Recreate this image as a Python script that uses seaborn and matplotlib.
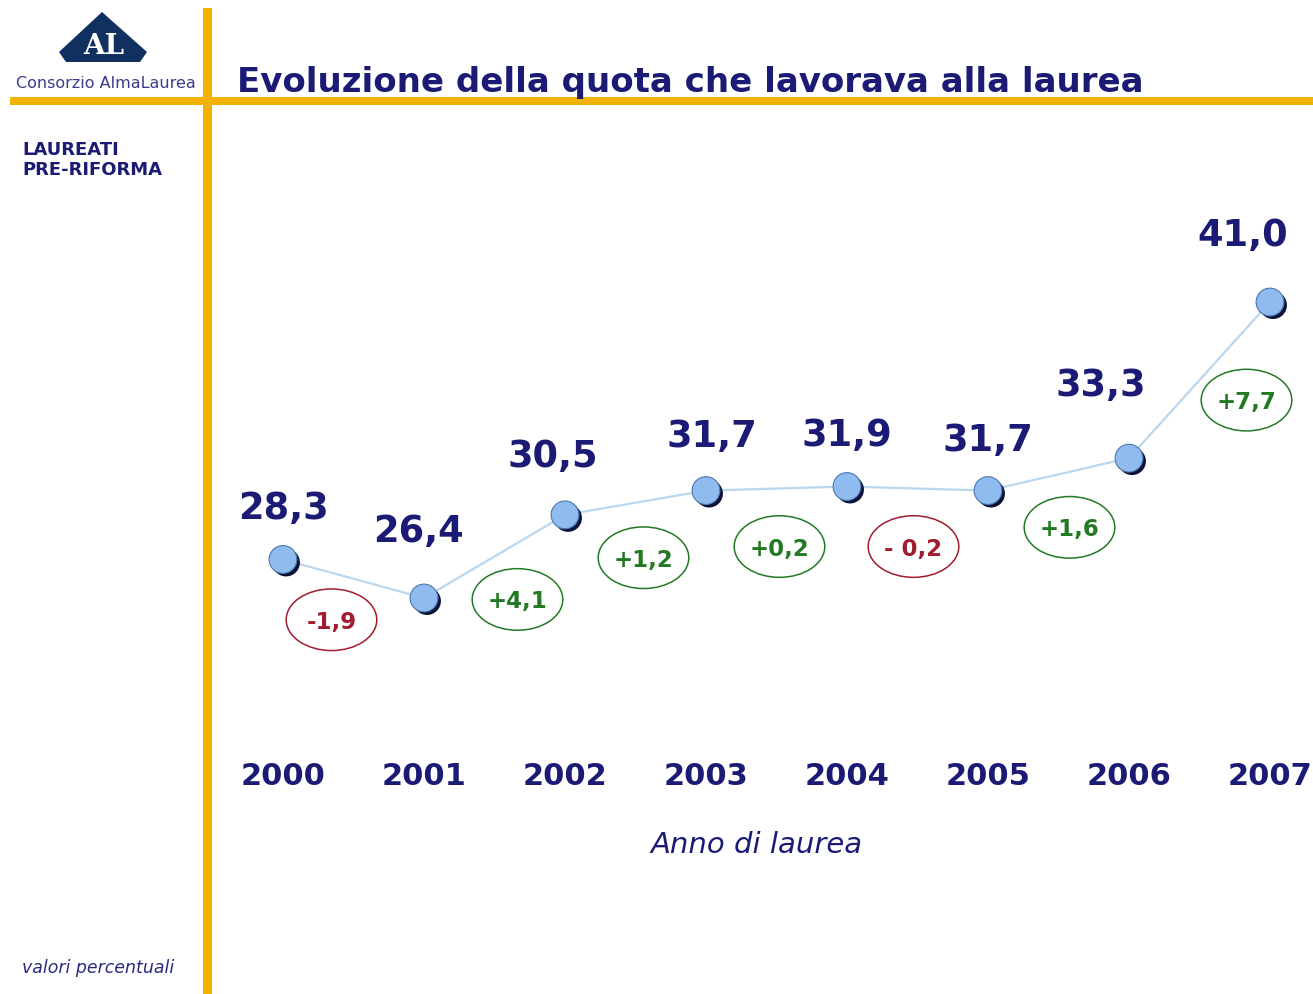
import matplotlib
matplotlib.use("Agg")
import matplotlib.pyplot as plt
import matplotlib.patheffects as pe
from matplotlib.patches import Rectangle, Polygon, Ellipse
from matplotlib.offsetbox import DrawingArea, AnnotationBbox
from matplotlib.text import Text
import seaborn as sns
import pandas as pd

sns.set_theme(style="white")
plt.rcParams['font.family'] = ['DejaVu Sans']

# dati
anni = [2000, 2001, 2002, 2003, 2004, 2005, 2006, 2007]
quota = [28.3, 26.4, 30.5, 31.7, 31.9, 31.7, 33.3, 41.0]
variazioni = ['-1,9', '+4,1', '+1,2', '+0,2', '- 0,2', '+1,6', '+7,7']

titolo = 'Evoluzione della quota che lavorava alla laurea'
sottotitolo = 'LAUREATI\nPRE-RIFORMA'
nota = 'valori percentuali'
asse_x = 'Anno di laurea'

# colori
BLU = '#1b1a75'
ORO = '#f2b200'
ROSSO = '#a01c2e'
VERDE = '#237a23'

# spostamenti etichette (pixel)
off_valori = [(0, 55), (-6, 71), (-12, 62), (6, 58), (0, 55), (0, 54), (-28, 77), (-27, 71)]
off_var = [(-22, -41), (23, -43), (8, -55), (3, -58), (-4, -58), (11, -53), (47, -20)]

df = pd.DataFrame({'anno': anni, 'quota': quota})

W, H = 1313, 994
fig = plt.figure(figsize=(W / 100, H / 100), dpi=100)
fig.patch.set_facecolor('white')

def fx(px):
    return px / W

def fy(py):
    return 1 - py / H

# area del grafico
ax = fig.add_axes([0, fy(755), 1, fy(200) - fy(755)])
ax.set_facecolor('none')
ax.set_xlim(1997.993, 2007.305)
ax.set_ylim(18.655, 46.035)

sns.lineplot(data=df, x='anno', y='quota', ax=ax, color='#b9d7ef', lw=1.6, zorder=2)
pts = sns.scatterplot(data=df, x='anno', y='quota', ax=ax, s=400, color='#8fbbee',
                      edgecolor='#4a78b0', linewidth=0.8, zorder=3)
pts.collections[-1].set_path_effects([
    pe.SimplePatchShadow(offset=(2.2, -2.2), shadow_rgbFace='#0b1236', alpha=1.0),
    pe.Normal()])

for a, q, (dx, dy) in zip(anni, quota, off_valori):
    ax.annotate(f'{q:.1f}'.replace('.', ','), xy=(a, q), xytext=(dx, dy),
                textcoords='offset pixels', ha='center', va='center_baseline',
                fontsize=26.5, fontweight='bold', color=BLU)

for i, (lab, (dx, dy)) in enumerate(zip(variazioni, off_var)):
    diff = quota[i + 1] - quota[i]
    col = VERDE if diff > 0 else ROSSO
    xm = (anni[i] + anni[i + 1]) / 2
    ym = (quota[i] + quota[i + 1]) / 2
    ew, eh = 92 * 0.72, 63 * 0.72
    da = DrawingArea(ew, eh, 0, 0)
    da.add_artist(Ellipse((ew / 2, eh / 2), ew - 1, eh - 1, facecolor='white',
                          edgecolor=col, lw=1.1))
    da.add_artist(Text(ew / 2, eh / 2, lab, ha='center', va='center_baseline',
                       fontsize=16.5, fontweight='bold', color=col))
    ab = AnnotationBbox(da, (xm, ym), xybox=(dx, dy), boxcoords='offset pixels',
                        frameon=False, pad=0, box_alignment=(0.5, 0.5))
    ax.add_artist(ab)

ax.set_xticks(anni)
ax.set_xticklabels([str(a) for a in anni], fontsize=22, fontweight='bold', color=BLU)
ax.set_yticks([])
ax.tick_params(axis='x', length=0, pad=5)
for s in ax.spines.values():
    s.set_visible(False)
ax.set_xlabel(asse_x, fontsize=21, style='italic', color=BLU)
ax.xaxis.set_label_coords(757 / W, (755 - 845) / (755 - 200))
ax.xaxis.label.set_va('center')
ax.set_ylabel('')

# cornice
fig.add_artist(Rectangle((fx(203), 0), fx(9), fy(8), transform=fig.transFigure,
                         color=ORO, lw=0, zorder=0))
fig.add_artist(Rectangle((fx(10), fy(105)), 1, fy(97) - fy(105), transform=fig.transFigure,
                         color=ORO, lw=0, zorder=0))

# logo
logo = [(102, 12), (147, 52), (140, 62), (66, 62), (59, 52)]
fig.add_artist(Polygon([(fx(x), fy(y)) for x, y in logo], closed=True,
                       transform=fig.transFigure, color='#10305f', lw=0))
fig.text(fx(104), fy(46), 'AL', fontsize=20, fontweight='bold', family='DejaVu Serif',
         color='white', ha='center', va='center')
fig.text(fx(106), fy(84), 'Consorzio AlmaLaurea', fontsize=11.5, color='#3b3a8c',
         ha='center', va='center')

fig.text(fx(237), fy(92), titolo, fontsize=24.5, fontweight='bold', color=BLU,
         ha='left', va='baseline')
fig.text(fx(22), fy(141), sottotitolo, fontsize=13, fontweight='bold', color=BLU,
         ha='left', va='top', linespacing=1.15)
fig.text(fx(22), fy(968), nota, fontsize=12.5, style='italic', color='#2b2a80',
         ha='left', va='center')

fig.savefig('out.png', dpi=100)
